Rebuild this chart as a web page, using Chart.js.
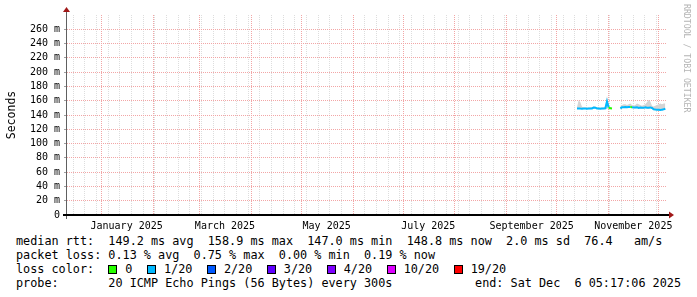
<!DOCTYPE html>
<html lang="en">
<head>
<meta charset="UTF-8">
<title>Smokeping - last 360 days</title>
<script src="https://cdn.jsdelivr.net/npm/chart.js"></script>
<style>
    body {
        margin: 0;
        background: #fff;
        font-family: 'DejaVu Sans Mono', monospace;
    }
    .graph { position: relative; width: 697px; height: 297px; overflow: hidden; background: #fff; }
    #rtt { position: absolute; left: 0; top: 0; }
    .line { position: absolute; left: 16px; font-size: 11.8px; line-height: 14px; white-space: pre; color: #000; }
    .end { left: auto; right: 16px; }
    .loss { display: flex; align-items: center; }
    .sw { width: 7px; height: 7px; border: 1px solid #000; margin-right: 8px; }
    .tag { margin-right: 14.5px; }
    .credit { position: absolute; left: 682px; top: 4px; writing-mode: vertical-rl; font-size: 8.2px; color: #b4b4b4; white-space: pre; }
</style>
</head>
<body>
<div class="graph">
    <canvas id="rtt" width="697" height="232"></canvas>
    <div class="credit">RRDTOOL / TOBI OETIKER</div>
    <div class="line" style="top:234px">median rtt:  149.2 ms avg  158.9 ms max  147.0 ms min  148.8 ms now  2.0 ms sd  76.4   am/s</div>
    <div class="line" style="top:248px">packet loss: 0.13 % avg  0.75 % max  0.00 % min  0.19 % now</div>
    <div class="line loss" style="top:262px"><span>loss color:  </span><span id="lossKey" class="loss"></span></div>
    <div class="line" style="top:276px">probe:       20 ICMP Echo Pings (56 Bytes) every 300s</div>
    <div class="line end" style="top:276px">end: Sat Dec  6 05:17:06 2025</div>
</div>

<script>
    // graph range: last 360 days, ending Sat Dec 6 05:17:06 2025
    const rangeEnd = Date.UTC(2025, 11, 6, 5, 17, 6);
    const rangeDays = 360;
    const rangeStart = rangeEnd - rangeDays * 864e5;

    // one sample per day (2025), null = no data
    const sampleDates = [
        '10-13', '10-14', '10-15', '10-16', '10-17', '10-18', '10-19', '10-20', '10-21', '10-22',
        '10-23', '10-24', '10-25', '10-26', '10-27', '10-28', '10-29', '10-30', '10-31', '11-01',
        '11-02', '11-03',
        '11-04', '11-05', '11-06', '11-07',
        '11-08', '11-09', '11-10', '11-11', '11-12', '11-13', '11-14', '11-15',
        '11-16', '11-17', '11-18', '11-19', '11-20', '11-21', '11-22', '11-23', '11-24', '11-25', '11-26', '11-27',
        '11-28', '11-29', '11-30', '12-01', '12-02', '12-03', '12-04', '12-05'
    ];
    // median rtt in ms
    const medianRtt = [
        149.0, 149.2, 149.0, 148.9, 149.0, 149.1, 148.9, 149.0, 149.0, 149.2,
        150.4, 150.2, 149.1, 149.0, 148.9, 149.0, 149.0, 149.3, 158.9, 150.5,
        149.4, 149.2,
        null, null, null, null,
        149.4, 150.8, 151.0, 151.2, 151.0, 151.3, 151.1, 151.0,
        150.6, 150.4, 150.8, 150.0, 150.6, 150.2, 150.0, 150.7, 150.3, 150.1, 150.6, 149.8,
        148.0, 147.6, 147.4, 147.2, 147.0, 147.5, 147.9, 148.8
    ];
    // smoke band (ms)
    const smokeHigh = [
        151.0, 160.5, 158.0, 151.5, 150.5, 150.6, 150.4, 150.5, 150.6, 150.8,
        152.0, 151.8, 150.6, 150.5, 150.4, 150.6, 150.5, 151.0, 167.0, 152.0,
        150.8, 150.6,
        null, null, null, null,
        153.0, 154.0, 155.0, 155.0, 154.0, 155.0, 156.0, 154.0,
        153.0, 154.0, 156.0, 155.0, 154.0, 153.0, 154.0, 155.0, 158.0, 161.0, 159.0, 153.0,
        152.0, 153.0, 154.0, 155.0, 156.0, 155.0, 156.0, 156.0
    ];
    const smokeLow = [
        148.2, 148.4, 148.2, 148.1, 148.2, 148.3, 148.1, 148.2, 148.2, 148.4,
        149.5, 149.3, 148.3, 148.2, 148.1, 148.2, 148.2, 148.5, 148.6, 149.6,
        148.6, 148.4,
        null, null, null, null,
        148.5, 149.8, 150.0, 150.1, 150.0, 150.2, 150.1, 150.0,
        149.6, 149.4, 149.7, 149.1, 149.6, 149.2, 149.0, 149.6, 149.3, 149.1, 149.5, 148.8,
        147.1, 146.7, 146.5, 146.3, 146.1, 146.5, 146.9, 147.8
    ];
    // lost pings out of 20
    const lossPings = [
        1, 1, 1, 1, 1, 1, 1, 1, 1, 1,
        1, 1, 1, 1, 1, 1, 1, 1, 1, 1,
        0, 0,
        null, null, null, null,
        1, 1, 1, 1, 1, 1, 1, 0,
        1, 1, 1, 1, 1, 1, 1, 1, 1, 1, 1, 1,
        1, 1, 1, 1, 1, 1, 1, 1
    ];

    const lossSteps = [0, 1, 2, 3, 4, 10, 19];
    const lossNames = ['0', '1/20', '2/20', '3/20', '4/20', '10/20', '19/20'];
    const lossColors = ['#26ff00', '#00b8ff', '#0059ff', '#5e00ff', '#7e00ff', '#dd00ff', '#ff0000'];

    const monthTicks = ['2025-01', '2025-03', '2025-05', '2025-07', '2025-09', '2025-11'];
    const monthLabels = ['January 2025', 'March 2025', 'May 2025', 'July 2025', 'September 2025', 'November 2025'];

    const dayOf = t => (t - rangeStart) / 864e5;
    const sampleX = sampleDates.map(d => dayOf(Date.parse('2025-' + d + 'T05:17:06Z')));

    function lossColor(n) {
        let c = lossColors[0];
        lossSteps.forEach((s, i) => { if (n >= s) c = lossColors[i]; });
        return c;
    }

    // loss color key
    const key = document.getElementById('lossKey');
    lossNames.forEach((name, i) => {
        key.insertAdjacentHTML('beforeend',
            `<span class="sw" style="background:${lossColors[i]}"></span><span class="tag">${name}</span>`);
    });

    // x ticks: weekly lines (sundays), month lines, month labels at mid month
    function timeTicks() {
        const ticks = [];
        const add = (t, kind, text) => {
            const v = dayOf(t);
            if (v >= 0 && v <= rangeDays) ticks.push({ value: v, kind: kind, text: text || '' });
        };
        const d = new Date(rangeStart);
        d.setUTCHours(0, 0, 0, 0);
        while (d.getUTCDay() !== 0) d.setUTCDate(d.getUTCDate() + 1);
        for (; d.getTime() <= rangeEnd; d.setUTCDate(d.getUTCDate() + 7)) add(d.getTime(), 'week');
        for (let m = 0; m < 14; m++) add(Date.UTC(2024, 11 + m, 1), 'month');
        monthTicks.forEach((ym, i) => {
            const [y, m] = ym.split('-').map(Number);
            add(Date.UTC(y, m - 1, 16), 'label', monthLabels[i]);
        });
        return ticks.sort((a, b) => a.value - b.value);
    }

    const minorGrid = '#dddddd';
    const majorGrid = '#f2a6a6';
    const tickFont = { family: 'DejaVu Sans Mono', size: 10 };

    // axis arrows like rrdtool draws them
    const axisArrows = {
        id: 'axisArrows',
        afterDraw(chart) {
            const { ctx, chartArea: a } = chart;
            ctx.save();
            ctx.strokeStyle = '#606060';
            ctx.lineWidth = 1;
            ctx.beginPath();
            ctx.moveTo(a.left - 0.5, a.bottom + 4);
            ctx.lineTo(a.left - 0.5, a.top - 4);
            ctx.stroke();
            ctx.strokeStyle = '#000';
            ctx.lineWidth = 2;
            ctx.beginPath();
            ctx.moveTo(a.left - 4, a.bottom);
            ctx.lineTo(a.right + 2, a.bottom);
            ctx.stroke();
            ctx.fillStyle = '#a01818';
            ctx.beginPath();
            ctx.moveTo(a.left - 0.5, a.top - 8);
            ctx.lineTo(a.left - 4, a.top - 3);
            ctx.lineTo(a.left + 3, a.top - 3);
            ctx.closePath();
            ctx.fill();
            ctx.beginPath();
            ctx.moveTo(a.right + 7, a.bottom);
            ctx.lineTo(a.right + 2, a.bottom - 3.5);
            ctx.lineTo(a.right + 2, a.bottom + 3.5);
            ctx.closePath();
            ctx.fill();
            ctx.restore();
        }
    };

    const ctx = document.getElementById('rtt').getContext('2d');
    new Chart(ctx, {
        type: 'line',
        data: {
            datasets: [
                {
                    label: 'median rtt',
                    data: sampleX.map((x, i) => ({ x: x, y: medianRtt[i] })),
                    borderColor: lossColors[1],
                    borderWidth: 2,
                    pointRadius: 0,
                    fill: false,
                    segment: {
                        borderColor: c => lossColor(lossPings[c.p1DataIndex])
                    }
                },
                {
                    label: 'smoke high',
                    data: sampleX.map((x, i) => ({ x: x, y: smokeHigh[i] })),
                    borderWidth: 0,
                    pointRadius: 0,
                    backgroundColor: '#d4d4d4',
                    fill: '+1'
                },
                {
                    label: 'smoke low',
                    data: sampleX.map((x, i) => ({ x: x, y: smokeLow[i] })),
                    borderWidth: 0,
                    pointRadius: 0,
                    fill: false
                }
            ]
        },
        options: {
            responsive: false,
            animation: false,
            events: [],
            layout: { padding: { top: 15, right: 30, left: 0, bottom: 0 } },
            plugins: { legend: { display: false }, tooltip: { enabled: false } },
            scales: {
                x: {
                    type: 'linear',
                    min: 0,
                    max: rangeDays,
                    afterBuildTicks: scale => { scale.ticks = timeTicks(); },
                    afterFit: scale => { scale.height = 17; },
                    ticks: {
                        autoSkip: false,
                        maxRotation: 0,
                        padding: 5,
                        color: '#000',
                        font: tickFont,
                        callback: (v, i, ticks) => ticks[i].text
                    },
                    grid: {
                        drawTicks: false,
                        color: c => c.tick.kind === 'month' ? majorGrid : (c.tick.kind === 'week' ? minorGrid : 'rgba(0,0,0,0)')
                    },
                    border: { display: false, dash: [1, 1] }
                },
                y: {
                    min: 0,
                    max: 280,
                    afterBuildTicks: scale => {
                        const t = [];
                        for (let v = 0; v < 280; v += 10) t.push({ value: v });
                        scale.ticks = t;
                    },
                    afterFit: scale => { scale.width = 67; },
                    ticks: {
                        padding: 4,
                        color: '#000',
                        font: tickFont,
                        callback: v => v === 0 ? '0' : (v % 20 === 0 ? v + ' m' : '')
                    },
                    grid: {
                        tickLength: 3,
                        color: c => c.tick.value === 0 ? 'rgba(0,0,0,0)' : (c.tick.value % 20 === 0 ? majorGrid : minorGrid),
                        tickColor: c => c.tick.value % 20 === 0 ? '#a0a0a0' : 'rgba(0,0,0,0)'
                    },
                    border: { display: false, dash: [1, 1] },
                    title: {
                        display: true,
                        text: 'Seconds',
                        color: '#000',
                        font: { family: 'DejaVu Sans Mono', size: 11.5 },
                        padding: { top: 5, bottom: 0 }
                    }
                }
            }
        },
        plugins: [axisArrows]
    });
</script>
</body>
</html>
